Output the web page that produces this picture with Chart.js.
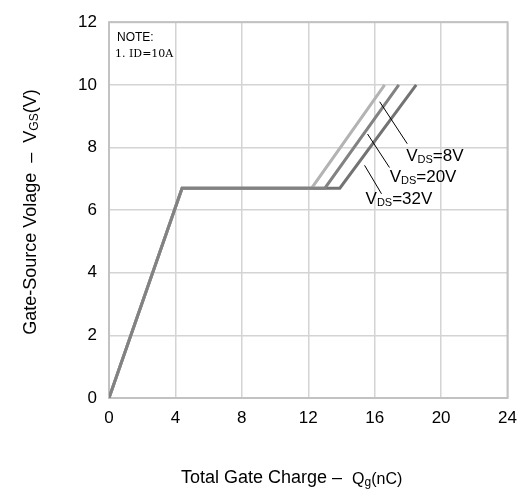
<!DOCTYPE html>
<html>
<head>
<meta charset="utf-8">
<script src="https://cdn.jsdelivr.net/npm/chart.js@4/dist/chart.umd.min.js"></script>
<style>
  html, body { margin: 0; padding: 0; background: #fff; }
  #wrap { width: 527px; height: 492px; }
</style>
</head>
<body>
<div id="wrap"><canvas id="c"></canvas></div>
<script>
// gate charge curves, Qg (nC) vs Vgs (V)
const vgs = [0, 6.7, 6.7, 10];
const qg8V = [0, 4.4, 12.2, 16.6];
const qg20V = [0, 4.4, 13.0, 17.45];
const qg32V = [0, 4.4, 13.9, 18.5];
const xTicks = [0, 4, 8, 12, 16, 20, 24];
const yTicks = [0, 2, 4, 6, 8, 10, 12];
const seriesLabels = ['8V', '20V', '32V'];

const FONT = "'Liberation Sans', Arial, sans-serif";

// callouts: text anchor and leader line in chart units
const callouts = [
  { text: seriesLabels[0], at: [17.9, 7.72], line: [16.3, 9.46, 17.96, 8.12] },
  { text: seriesLabels[1], at: [16.9, 7.05], line: [15.57, 8.43, 16.89, 7.36] },
  { text: seriesLabels[2], at: [15.45, 6.36], line: [15.39, 7.43, 16.41, 6.52] }
];

function pts(xs) {
  return xs.map((x, i) => ({ x: x, y: vgs[i] }));
}

// draw text made of parts [text, size, dy]
function drawParts(ctx, parts, x, y, align) {
  let w = 0;
  parts.forEach(p => {
    ctx.font = p[1] + 'px ' + FONT;
    w += ctx.measureText(p[0]).width;
  });
  let cx = align === 'center' ? x - w / 2 : x;
  ctx.textAlign = 'left';
  ctx.textBaseline = 'middle';
  parts.forEach(p => {
    ctx.font = p[1] + 'px ' + FONT;
    ctx.fillText(p[0], cx, y + (p[2] || 0));
    cx += ctx.measureText(p[0]).width;
  });
}

const decor = {
  id: 'decor',
  beforeDatasetsDraw(chart) {
    const { ctx, chartArea: a } = chart;
    ctx.save();
    ctx.strokeStyle = '#c2c2c2';
    ctx.lineWidth = 2;
    ctx.strokeRect(a.left, a.top, a.right - a.left, a.bottom - a.top);
    ctx.restore();
  },
  afterDatasetsDraw(chart) {
    const { ctx, chartArea: a, scales } = chart;
    const xs = scales.x, ys = scales.y;
    ctx.save();
    ctx.fillStyle = '#000';

    // note box text
    ctx.font = '12px ' + FONT;
    ctx.textBaseline = 'middle';
    ctx.fillText('NOTE:', a.left + 8, a.top + 15);
    ctx.font = "11px 'DejaVu Serif', 'Liberation Serif', serif";
    ctx.fillText('1. ID=10A', a.left + 6, a.top + 32);

    // callouts
    ctx.strokeStyle = '#000';
    ctx.lineWidth = 1;
    callouts.forEach(c => {
      ctx.beginPath();
      ctx.moveTo(xs.getPixelForValue(c.line[0]), ys.getPixelForValue(c.line[1]));
      ctx.lineTo(xs.getPixelForValue(c.line[2]), ys.getPixelForValue(c.line[3]));
      ctx.stroke();
      drawParts(ctx, [['V', 17, 0], ['DS', 11, 4], ['=' + c.text, 17, 0]],
        xs.getPixelForValue(c.at[0]), ys.getPixelForValue(c.at[1]), 'left');
    });

    // axis titles
    drawParts(ctx, [['Total Gate Charge \u2013  ', 18, 0], ['Q', 16, 2], ['g', 12, 5], ['(nC)', 16, 2]],
      a.left + 72, 478, 'left');
    ctx.translate(31, (a.top + a.bottom) / 2 + 2);
    ctx.rotate(-Math.PI / 2);
    drawParts(ctx, [['Gate-Source Volage  \u2013  V', 18, 0], ['GS', 12, 4], ['(V)', 18, 0]], 0, 0, 'center');
    ctx.restore();
  }
};

new Chart(document.getElementById('c'), {
  type: 'scatter',
  data: {
    datasets: [
      { label: 'VDS=' + seriesLabels[1], data: pts(qg20V), borderColor: '#828282', order: 0 },
      { label: 'VDS=' + seriesLabels[0], data: pts(qg8V), borderColor: '#b3b3b3', order: 1 },
      { label: 'VDS=' + seriesLabels[2], data: pts(qg32V), borderColor: '#737373', order: 2 }
    ].map(d => Object.assign(d, { showLine: true, borderWidth: 3, pointRadius: 0, fill: false, tension: 0 }))
  },
  options: {
    responsive: true,
    maintainAspectRatio: false,
    animation: false,
    layout: { padding: { left: 0, top: 15, right: 17, bottom: 0 } },
    plugins: { legend: { display: false }, tooltip: { enabled: false } },
    scales: {
      x: {
        type: 'linear', min: 0, max: 24,
        afterBuildTicks: s => { s.ticks = xTicks.map(v => ({ value: v })); },
        afterFit: s => { s.height = 94; },
        grid: { color: '#d4d4d4', lineWidth: 1.5, drawTicks: false },
        border: { display: false },
        ticks: { color: '#000', font: { family: FONT, size: 17 }, padding: 10 }
      },
      y: {
        type: 'linear', min: 0, max: 12,
        afterBuildTicks: s => { s.ticks = yTicks.map(v => ({ value: v })); },
        afterFit: s => { s.width = 109; },
        grid: { color: '#d4d4d4', lineWidth: 1.5, drawTicks: false },
        border: { display: false },
        ticks: { color: '#000', font: { family: FONT, size: 17 }, padding: 12 }
      }
    }
  },
  plugins: [decor]
});
</script>
</body>
</html>
